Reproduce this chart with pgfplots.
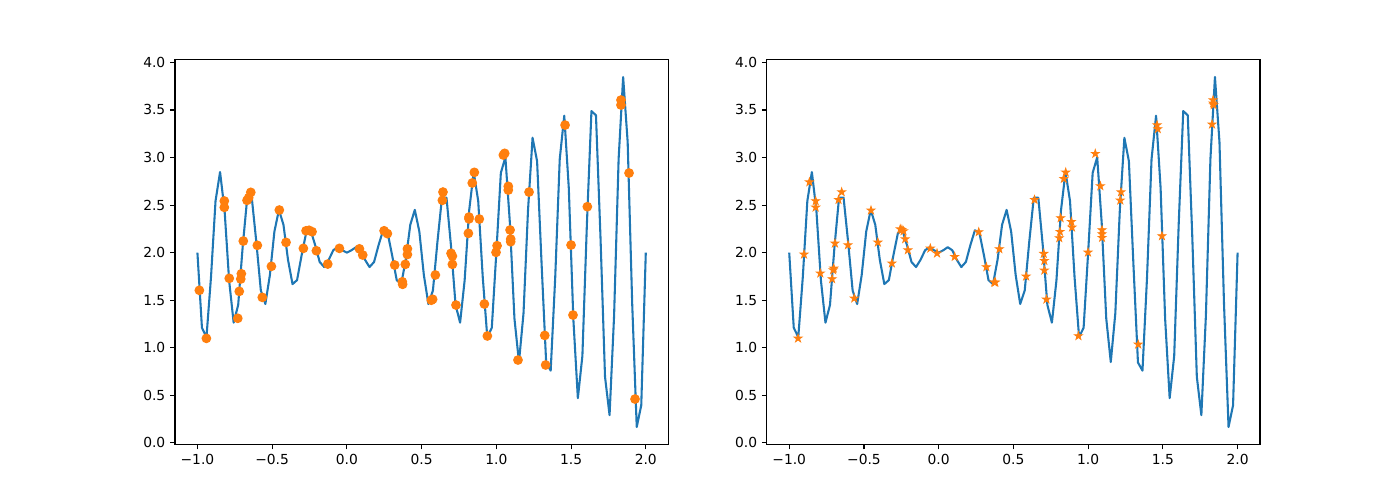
\documentclass[border=0pt]{standalone}
\usepackage{fontspec}
\setmainfont{DejaVu Sans}
\usepackage{pgfplots}
\pgfplotsset{compat=1.18}
\definecolor{c0}{HTML}{1F77B4}
\definecolor{c1}{HTML}{FF7F0E}
\pgfdeclareplotmark{fstar}{%
  \pgfpathmoveto{\pgfpointpolar{90}{\pgfplotmarksize}}%
  \pgfpathlineto{\pgfpointpolar{126}{0.382\pgfplotmarksize}}%
  \pgfpathlineto{\pgfpointpolar{162}{\pgfplotmarksize}}%
  \pgfpathlineto{\pgfpointpolar{198}{0.382\pgfplotmarksize}}%
  \pgfpathlineto{\pgfpointpolar{234}{\pgfplotmarksize}}%
  \pgfpathlineto{\pgfpointpolar{270}{0.382\pgfplotmarksize}}%
  \pgfpathlineto{\pgfpointpolar{306}{\pgfplotmarksize}}%
  \pgfpathlineto{\pgfpointpolar{342}{0.382\pgfplotmarksize}}%
  \pgfpathlineto{\pgfpointpolar{18}{\pgfplotmarksize}}%
  \pgfpathlineto{\pgfpointpolar{54}{0.382\pgfplotmarksize}}%
  \pgfpathclose
  \pgfusepathqfillstroke}
\pgfplotsset{
  mpl/.style={
    scale only axis, anchor=south west,
    width=4.932in, height=3.85in,
    xmin=-1.15, xmax=2.15, ymin=-0.01669, ymax=4.03036,
    xtick={-1,-0.5,0,0.5,1,1.5,2},
    xticklabels={−1.0,−0.5,0.0,0.5,1.0,1.5,2.0},
    ytick={0,0.5,1,1.5,2,2.5,3,3.5,4},
    yticklabels={0.0,0.5,1.0,1.5,2.0,2.5,3.0,3.5,4.0},
    xtick pos=left, ytick pos=left,
    tick align=outside, major tick length=3.5pt,
    every tick/.style={black, line width=0.8pt},
    axis line style={line width=0.8pt},
    tick label style={font=\fontsize{10}{12}\selectfont},
  }
}
\newcommand{\curve}{%
\addplot[c0, line width=1.5pt, line join=round, mark=none] coordinates {
(-1,2) (-0.969697,1.21010) (-0.939394,1.11227) (-0.909091,1.74388) (-0.878788,2.54323)
(-0.848485,2.84753) (-0.818182,2.44234) (-0.787879,1.70718) (-0.757576,1.26378) (-0.727273,1.45036)
(-0.696970,2.06625) (-0.666667,2.57735) (-0.636364,2.57886) (-0.606061,2.11470) (-0.575758,1.60269)
(-0.545455,1.46010) (-0.515152,1.76395) (-0.484848,2.22217) (-0.454545,2.44992) (-0.424242,2.29276)
(-0.393939,1.92545) (-0.363636,1.66923) (-0.333333,1.71132) (-0.303030,1.97119) (-0.272727,2.20611)
(-0.242424,2.23559) (-0.212121,2.07884) (-0.181818,1.90170) (-0.151515,1.84866) (-0.121212,1.92507)
(-0.090909,2.02561) (-0.060606,2.05727) (-0.030303,2.02468)
(0,2) (0.030303,2.02468) (0.060606,2.05727) (0.090909,2.02561) (0.121212,1.92507)
(0.151515,1.84866) (0.181818,1.90170) (0.212121,2.07884) (0.242424,2.23559) (0.272727,2.20611)
(0.303030,1.97119) (0.333333,1.71132) (0.363636,1.66923) (0.393939,1.92545) (0.424242,2.29276)
(0.454545,2.44992) (0.484848,2.22217) (0.515152,1.76395) (0.545455,1.46010) (0.575758,1.60269)
(0.606061,2.11470) (0.636364,2.57886) (0.666667,2.57735) (0.696970,2.06625) (0.727273,1.45036)
(0.757576,1.26378) (0.787879,1.70718) (0.818182,2.44234) (0.848485,2.84753) (0.878788,2.54323)
(0.909091,1.74388) (0.939394,1.11227) (0.969697,1.21010)
(1,2) (1.030303,2.83926) (1.060606,3.00227) (1.090909,2.30734) (1.121212,1.30691)
(1.151515,0.84979) (1.181818,1.36106) (1.212121,2.45050) (1.242424,3.20740) (1.272727,2.96186)
(1.303030,1.87613) (1.333333,0.84529) (1.363636,0.75960) (1.393939,1.73620) (1.424242,2.98283)
(1.454545,3.43974) (1.484848,2.68039) (1.515152,1.30573) (1.545455,0.47028) (1.575758,0.91262)
(1.606061,2.30395) (1.636364,3.48849) (1.666667,3.44338) (1.696970,2.16131) (1.727273,0.69461)
(1.757576,0.29197) (1.787879,1.33552) (1.818182,2.98298) (1.848485,3.84640) (1.878788,3.16139)
(1.909091,1.46215) (1.939394,0.16727) (1.969697,0.39552) (2,2)
};}
\begin{document}
\begin{tikzpicture}
\path[use as bounding box] (0,0) rectangle (14in,5in);
\begin{axis}[mpl, at={(1.75in,0.555in)}]
\curve
\addplot[only marks, mark=*, mark size=3pt, color=c1, line width=1pt] coordinates {
(-0.987,1.604) (-0.940,1.099) (-0.820,2.543) (-0.820,2.476) (-0.787,1.730)
(-0.730,1.310) (-0.720,1.593) (-0.706,1.778) (-0.710,1.723) (-0.693,2.122)
(-0.668,2.550) (-0.657,2.577) (-0.643,2.634) (-0.599,2.077) (-0.566,1.530)
(-0.505,1.856) (-0.452,2.448) (-0.407,2.108) (-0.291,2.045) (-0.273,2.230)
(-0.253,2.235) (-0.233,2.220) (-0.204,2.020) (-0.128,1.880) (-0.050,2.045)
(0.084,2.040) (0.106,1.975) (0.249,2.230) (0.271,2.200) (0.320,1.870)
(0.371,1.694) (0.373,1.667) (0.391,1.877) (0.405,2.040) (0.405,1.980)
(0.565,1.500) (0.574,1.510) (0.592,1.765) (0.643,2.637) (0.639,2.550)
(0.697,1.993) (0.706,1.964) (0.706,1.877) (0.730,1.449) (0.813,2.203)
(0.817,2.374) (0.817,2.355) (0.839,2.732) (0.853,2.844) (0.886,2.353)
(0.920,1.460) (0.940,1.124) (0.998,2.003) (1.005,2.073) (1.047,3.026)
(1.056,3.044) (1.080,2.697) (1.080,2.658) (1.092,2.238) (1.096,2.143)
(1.096,2.115) (1.145,0.871) (1.219,2.637) (1.324,1.130) (1.330,0.819)
(1.460,3.341) (1.500,2.080) (1.513,1.344) (1.609,2.483) (1.834,3.604)
(1.834,3.552) (1.888,2.837) (1.928,0.461)
};
\end{axis}
\begin{axis}[mpl, at={(7.668in,0.555in)}]
\curve
\addplot[only marks, mark=fstar, mark size=3pt, color=c1, line width=0.6pt] coordinates {
(-0.941,1.099) (-0.901,1.982) (-0.865,2.742) (-0.823,2.543) (-0.823,2.476)
(-0.792,1.783) (-0.713,1.723) (-0.706,1.817) (-0.702,1.835) (-0.694,2.098)
(-0.670,2.556) (-0.649,2.637) (-0.607,2.080) (-0.565,1.520) (-0.453,2.445)
(-0.407,2.108) (-0.313,1.888) (-0.257,2.248) (-0.246,2.241) (-0.235,2.227)
(-0.224,2.143) (-0.206,2.027) (-0.056,2.045) (-0.011,1.993) (0.107,1.957)
(0.268,2.217) (0.319,1.849) (0.372,1.688) (0.379,1.688) (0.406,2.038)
(0.585,1.751) (0.641,2.556) (0.703,1.989) (0.707,1.915) (0.707,1.814)
(0.721,1.509) (0.807,2.154) (0.812,2.220) (0.816,2.364) (0.837,2.777)
(0.850,2.844) (0.888,2.325) (0.892,2.266) (0.935,1.124) (0.999,2.003)
(1.048,3.040) (1.082,2.700) (1.093,2.238) (1.093,2.196) (1.093,2.157)
(1.215,2.550) (1.220,2.637) (1.335,1.036) (1.461,3.341) (1.466,3.300)
(1.494,2.175) (1.829,3.349) (1.836,3.604) (1.836,3.570) (1.840,3.552)
};
\end{axis}
\end{tikzpicture}
\end{document}
